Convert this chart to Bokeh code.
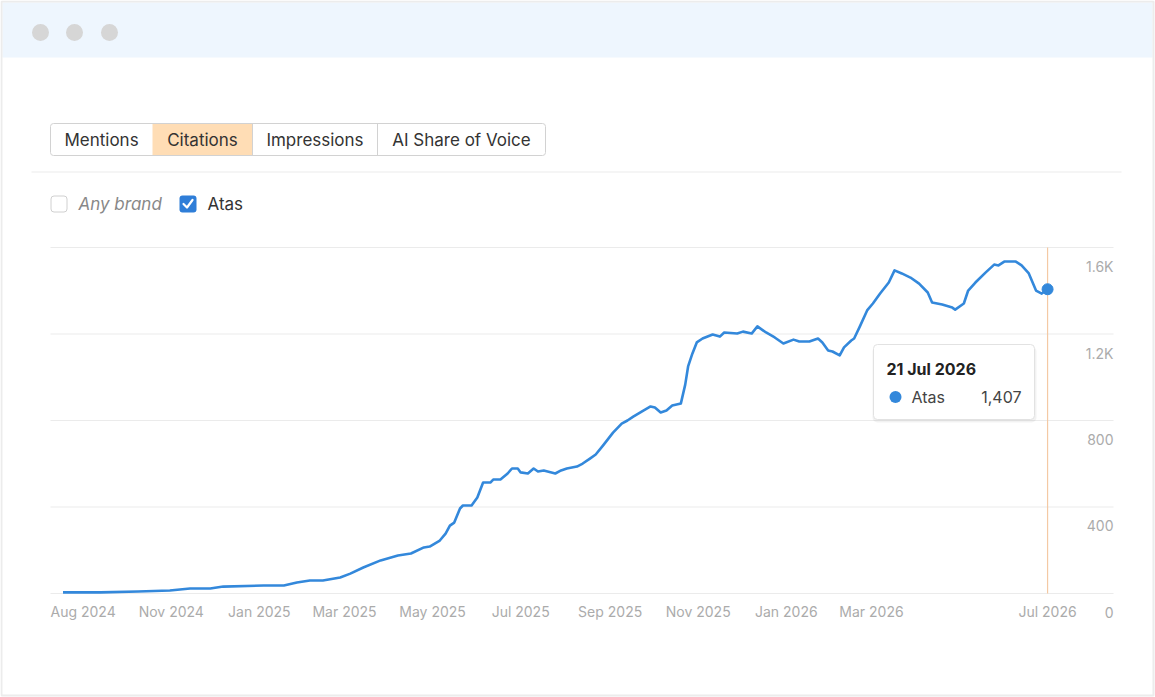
from datetime import datetime, timedelta
from bokeh.plotting import figure
from bokeh.models import Range1d
from bokeh.core.properties import value
from bokeh.embed import file_html
from bokeh.resources import INLINE

# ---------------- data ----------------
dates = [
    "2024-08-18", "2024-09-13", "2024-10-09", "2024-10-31", "2024-11-14", "2024-11-28",
    "2024-12-07", "2025-01-04", "2025-01-18", "2025-01-27", "2025-02-05", "2025-02-14",
    "2025-02-26", "2025-03-05", "2025-03-14", "2025-03-26", "2025-04-07", "2025-04-16",
    "2025-04-25", "2025-04-29", "2025-05-06", "2025-05-10", "2025-05-13", "2025-05-16",
    "2025-05-20", "2025-05-22", "2025-05-28", "2025-06-01", "2025-06-05", "2025-06-10",
    "2025-06-12", "2025-06-17", "2025-06-22", "2025-06-25", "2025-06-29", "2025-07-01",
    "2025-07-06", "2025-07-10", "2025-07-13", "2025-07-17", "2025-07-25", "2025-07-29",
    "2025-08-02", "2025-08-09", "2025-08-13", "2025-08-18", "2025-08-22", "2025-08-27",
    "2025-09-03", "2025-09-09", "2025-09-13", "2025-09-17", "2025-09-24", "2025-09-29",
    "2025-10-02", "2025-10-06", "2025-10-10", "2025-10-14", "2025-10-20", "2025-10-23",
    "2025-10-25", "2025-10-28", "2025-10-31", "2025-11-04", "2025-11-11", "2025-11-16",
    "2025-11-19", "2025-11-28", "2025-12-02", "2025-12-08", "2025-12-12", "2025-12-18",
    "2025-12-24", "2025-12-30", "2026-01-06", "2026-01-10", "2026-01-17", "2026-01-23",
    "2026-01-26", "2026-01-30", "2026-02-02", "2026-02-07", "2026-02-10", "2026-02-15",
    "2026-02-17", "2026-02-21", "2026-02-26", "2026-03-02", "2026-03-07", "2026-03-13",
    "2026-03-17", "2026-03-22", "2026-03-28", "2026-04-03", "2026-04-09", "2026-04-12",
    "2026-04-19", "2026-04-26", "2026-04-28", "2026-05-04", "2026-05-07", "2026-05-12",
    "2026-05-19", "2026-05-25", "2026-05-28", "2026-06-01", "2026-06-09", "2026-06-13",
    "2026-06-18", "2026-06-23", "2026-06-27", "2026-07-01",
]
citations = [
    5, 5, 9, 14, 23, 23,
    32, 37, 37, 51, 60, 60,
    74, 92, 120, 153, 176, 185,
    213, 217, 245, 277, 314, 328,
    393, 407, 407, 444, 513, 513,
    527, 527, 555, 578, 578, 560,
    555, 578, 564, 569, 555, 569,
    578, 587, 601, 624, 643, 684,
    744, 786, 800, 818, 846, 865,
    860, 837, 846, 869, 879, 966,
    1050, 1110, 1161, 1179, 1198, 1188,
    1207, 1202, 1211, 1202, 1235, 1207,
    1184, 1156, 1174, 1165, 1165, 1179,
    1161, 1124, 1119, 1101, 1138, 1170,
    1179, 1235, 1309, 1341, 1387, 1438,
    1494, 1480, 1461, 1433, 1392, 1346,
    1336, 1322, 1313, 1341, 1401, 1438,
    1484, 1521, 1517, 1535, 1535, 1517,
    1480, 1401, 1387, 1407,
]
series_name = "Atas"
tooltip_date = "21 Jul 2026"

x_tick_dates = ["2024-08-01", "2024-11-01", "2025-01-01", "2025-03-01", "2025-05-01",
                "2025-07-01", "2025-09-01", "2025-11-01", "2026-01-01", "2026-03-01",
                "2026-07-01"]
x_tick_labels = ["Aug 2024", "Nov 2024", "Jan 2025", "Mar 2025", "May 2025", "Jul 2025",
                 "Sep 2025", "Nov 2025", "Jan 2026", "Mar 2026", "Jul 2026"]
y_ticks = [0, 400, 800, 1200, 1600]
y_tick_labels = ["0", "400", "800", "1.2K", "1.6K"]

tab_names = ["Mentions", "Citations", "Impressions", "AI Share of Voice"]
active_tab = "Citations"
brand_options = ["Any brand", "Atas"]
brand_checked = [False, True]

# ---------------- styling / layout ----------------
FONT = value("Inter")
BLUE = "#3388DB"
AXIS_TXT = "#ABABAB"
BORDER = "#ECECEC"
W, H = 1155, 697

def to_dt(s):
    return datetime.strptime(s, "%Y-%m-%d")

xs = [to_dt(d) for d in dates]

# chart area inside the page (pixels) and its data extent
CL, CR, CT, CB = 50, 1113, 245, 595
x_start, x_end = datetime(2024, 8, 9, 8), datetime(2026, 8, 15, 16)
y_lo, y_hi = -9.25, 1609.25
px_per_day = (CR - CL) / ((x_end - x_start).total_seconds() / 86400)
px_per_unit = (CB - CT) / (y_hi - y_lo)
xr = Range1d(x_start - timedelta(days=CL / px_per_day),
             x_end + timedelta(days=(W - CR) / px_per_day))
yr = Range1d(y_lo - (H - CB) / px_per_unit, y_hi + CT / px_per_unit)

p = figure(width=W, height=H, x_axis_type="datetime", x_range=xr, y_range=yr,
           min_border=0, toolbar_location=None, output_backend="svg",
           x_axis_location=None, y_axis_location=None, outline_line_color=None)
p.grid.visible = False
p.background_fill_color = "white"
p.border_fill_color = "white"
# page-pixel coordinates for the surrounding UI chrome
p.extra_x_ranges = {"px": Range1d(0, W)}
p.extra_y_ranges = {"px": Range1d(H, 0)}
PX = dict(x_range_name="px", y_range_name="px")

# ---------- window chrome ----------
p.quad(left=2, right=W - 3, top=2, bottom=57, fill_color="#EEF6FE", line_color=None, **PX)
p.quad(left=1, right=W - 2, top=1, bottom=H - 2, fill_color=None, line_color=BORDER,
       line_width=2, **PX)
p.circle(x=[40, 74, 109], y=[32, 32, 32], radius=8.5, fill_color="#D6D6D6", line_color=None,
         **PX)

# ---------- tabs ----------
edges = [50, 152, 252, 377, 545]
ai = tab_names.index(active_tab)
p.quad(left=edges[ai], right=edges[ai + 1], top=123, bottom=155,
       fill_color="#FFDDB5", line_color=None, **PX)
p.quad(left=edges[0], right=edges[-1], top=123, bottom=155, fill_color=None,
       line_color="#D2D2D2", line_width=1, border_radius=3, **PX)
p.segment(x0=edges[2:4], y0=123, x1=edges[2:4], y1=155, line_color="#D2D2D2", **PX)
centers = [(edges[i] + edges[i + 1]) / 2 for i in range(len(tab_names))]
p.text(x=centers, y=139.5, text=tab_names, text_align="center", text_baseline="middle",
       text_font=FONT, text_font_size="17px", text_color="#333333", **PX)
p.segment(x0=31, y0=171.5, x1=1121, y1=171.5, line_color="#EBEBEB", line_width=1, **PX)

# ---------- checkboxes ----------
box_left = [50, 179]
for bl, checked in zip(box_left, brand_checked):
    if checked:
        p.quad(left=bl, right=bl + 17, top=195, bottom=212, fill_color="#2F7ED8",
               line_color=None, border_radius=3, **PX)
        p.line(x=[bl + 4, bl + 7.5, bl + 13], y=[203.5, 207, 199.5], line_color="white",
               line_width=2.2, line_cap="round", line_join="round", **PX)
    else:
        p.quad(left=bl + 0.5, right=bl + 16.5, top=195.5, bottom=211.5, fill_color="white",
               line_color="#D0D0D0", line_width=1, border_radius=3, **PX)
p.text(x=[78], y=[203.5], text=[brand_options[0]], text_align="left", text_baseline="middle",
       text_font=FONT, text_font_size="17px", text_font_style="italic", text_color="#888888",
       **PX)
p.text(x=[207], y=[203.5], text=[brand_options[1]], text_align="left", text_baseline="middle",
       text_font=FONT, text_font_size="17px", text_color="#333333", **PX)

# ---------- chart: grid, axis labels ----------
p.segment(x0=x_start, x1=x_end, y0=y_ticks, y1=y_ticks, line_color="#EBEBEB", line_width=1)
tick_x = [to_dt(d) for d in x_tick_dates]
tick_x[0] = x_start          # first label is pinned to the left edge of the chart
align = ["left"] + ["center"] * (len(tick_x) - 1)
p.text(x=tick_x, y=[0] * len(tick_x), text=x_tick_labels, text_align=align,
       text_baseline="middle", y_offset=18, text_font=FONT, text_font_size="14px",
       text_color=AXIS_TXT)
p.text(x=[x_end] * len(y_ticks), y=y_ticks, text=y_tick_labels, text_align="right",
       text_baseline="middle", y_offset=19, text_font=FONT, text_font_size="14px",
       text_color=AXIS_TXT)

# ---------- chart: data ----------
p.segment(x0=[xs[-1]], y0=[0], x1=[xs[-1]], y1=[1600], line_color="#F4C9A4", line_width=1.2)
p.line(x=xs, y=citations, line_color=BLUE, line_width=2.6, line_join="round")
p.scatter(x=[xs[-1]], y=[citations[-1]], size=11, fill_color=BLUE, line_color=BLUE)

# ---------- tooltip ----------
p.quad(left=872, right=1036, top=346, bottom=422, fill_color="#000000", fill_alpha=0.05,
       line_color=None, border_radius=5, **PX)
p.quad(left=873, right=1034, top=344, bottom=419, fill_color="white", line_color="#E2E2E2",
       line_width=1, border_radius=4, **PX)
p.text(x=[886], y=[368], text=[tooltip_date], text_align="left", text_baseline="middle",
       text_font=FONT, text_font_size="16px", text_font_style="bold", text_color="#222222", **PX)
p.scatter(x=[895], y=[396.5], size=12, fill_color=BLUE, line_color=None, **PX)
p.text(x=[911], y=[396.5], text=[series_name], text_align="left", text_baseline="middle",
       text_font=FONT, text_font_size="16px", text_color="#444444", **PX)
p.text(x=[1021], y=[396.5], text=[f"{citations[-1]:,}"], text_align="right",
       text_baseline="middle", text_font=FONT, text_font_size="16px", text_color="#444444", **PX)

open("out.html", "w").write(file_html(p, INLINE))
